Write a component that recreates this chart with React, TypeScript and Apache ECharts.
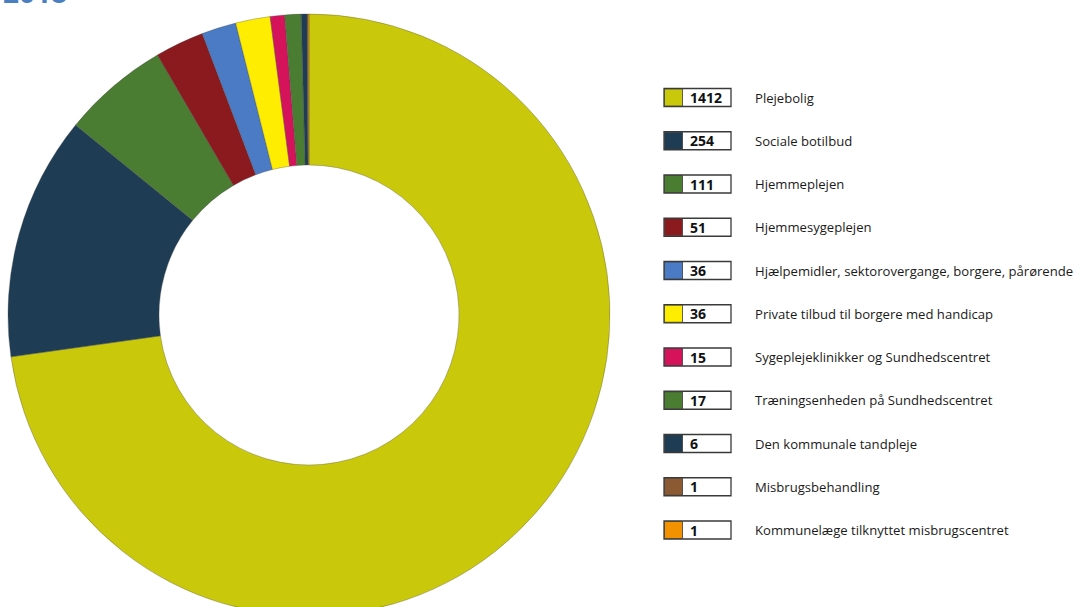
import React, { useEffect, useRef } from "react";
import * as echarts from "echarts";

const categories = [
  "Plejebolig",
  "Sociale botilbud",
  "Hjemmeplejen",
  "Hjemmesygeplejen",
  "Hjælpemidler, sektorovergange, borgere, pårørende",
  "Private tilbud til borgere med handicap",
  "Sygeplejeklinikker og Sundhedscentret",
  "Træningsenheden på Sundhedscentret",
  "Den kommunale tandpleje",
  "Misbrugsbehandling",
  "Kommunelæge tilknyttet misbrugscentret",
];
const values = [1412, 254, 111, 51, 36, 36, 15, 17, 6, 1, 1];
const colors = [
  "#c9c80b",
  "#1e3d54",
  "#4a7c32",
  "#8b1a1f",
  "#4a7bc4",
  "#ffed00",
  "#d5135a",
  "#4a7c32",
  "#1e3d54",
  "#8b5a33",
  "#f39200",
];
const titleText = "2018";

export default function App() {
  const ref = useRef<HTMLDivElement>(null);
  useEffect(() => {
    if (!ref.current) return;
    const chart = echarts.init(ref.current, undefined, { renderer: "svg" });
    const font = "'Open Sans', Lato, sans-serif";
    const rowY0 = 97.5;
    const rowGap = 43.25;
    const legendEls: any[] = [];
    categories.forEach((name, i) => {
      const cy = rowY0 + i * rowGap;
      legendEls.push(
        {
          type: "rect",
          shape: { x: 664, y: cy - 9, width: 67, height: 18 },
          style: { fill: "#ffffff", stroke: "#3a3a3a", lineWidth: 1.3 },
        },
        {
          type: "rect",
          shape: { x: 664.5, y: cy - 8.5, width: 18, height: 17 },
          style: { fill: colors[i], stroke: "#3a3a3a", lineWidth: 0.8 },
        },
        {
          type: "text",
          x: 690,
          y: cy,
          style: {
            text: String(values[i]),
            fill: "#111",
            font: `bold 14px ${font}`,
            textVerticalAlign: "middle",
            verticalAlign: "middle",
          },
        },
        {
          type: "text",
          x: 755,
          y: cy,
          style: {
            text: name,
            fill: "#1a1a1a",
            font: `13.1px ${font}`,
            verticalAlign: "middle",
            textVerticalAlign: "middle",
          },
        }
      );
    });
    chart.setOption({
      animation: false,
      backgroundColor: "#ffffff",
      title: {
        text: titleText,
        left: -2,
        top: -27,
        textStyle: { color: "#4a7fc1", fontSize: 28, fontWeight: "bold", fontFamily: font },
      },
      series: [
        {
          type: "pie",
          center: [309, 315],
          radius: [150, 301],
          startAngle: 90,
          clockwise: true,
          avoidLabelOverlap: false,
          label: { show: false },
          labelLine: { show: false },
          silent: true,
          itemStyle: { borderColor: "rgba(70,70,70,0.55)", borderWidth: 0.6 },
          data: categories.map((name, i) => ({
            name,
            value: values[i],
            itemStyle: { color: colors[i] },
          })),
        },
      ],
      graphic: legendEls,
    });
    return () => chart.dispose();
  }, []);
  return (
    <div
      ref={ref}
      style={{ position: "absolute", left: 0, top: 0, width: 1082, height: 607 }}
    />
  );
}
